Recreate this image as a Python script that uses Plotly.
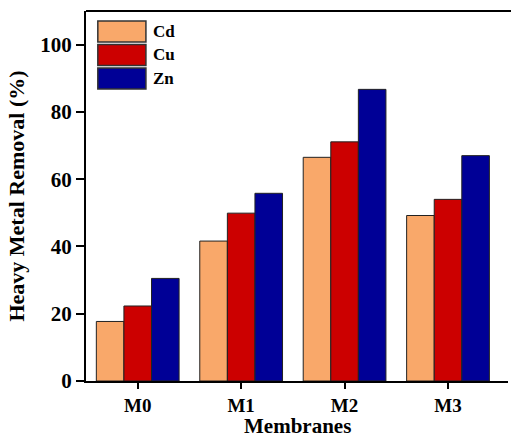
import plotly.graph_objects as go

membranes = ["M0", "M1", "M2", "M3"]
cd = [17.7, 41.6, 66.5, 49.2]
cu = [22.3, 49.9, 71.1, 54.0]
zn = [30.5, 55.8, 86.7, 67.0]

series = [("Cd", cd, "#F9A86A"), ("Cu", cu, "#CC0000"), ("Zn", zn, "#000096")]

font_family = "Liberation Serif"

plot_h = 441 - 11 - 60

fig = go.Figure()
for name, vals, color in series:
    fig.add_trace(go.Bar(
        x=membranes, y=vals, name=name,
        marker=dict(color=color, line=dict(color="#222222", width=1)),
    ))

# custom legend (large boxes as in the reference)
shapes = [dict(type="line", xref="paper", yref="paper", x0=0, x1=1.01, y0=1, y1=1,
               line=dict(color="black", width=2))]
annotations = []
box_x0, box_x1 = 0.028, 0.142
top, box_h, step = 1 - 10 / plot_h, 21 / plot_h, 23.5 / plot_h
for i, (name, vals, color) in enumerate(series):
    y1 = top - i * step
    y0 = y1 - box_h
    shapes.append(dict(type="rect", xref="paper", yref="paper", x0=box_x0, x1=box_x1,
                       y0=y0, y1=y1, fillcolor=color,
                       line=dict(color="#333333", width=1.5)))
    annotations.append(dict(xref="paper", yref="paper", x=0.155, y=(y0 + y1) / 2,
                            xanchor="left", yanchor="middle", showarrow=False,
                            text=name,
                            font=dict(size=17, family=font_family, color="black", weight="bold")))

# x-axis title as annotation at the bottom edge
annotations.append(dict(xref="paper", yref="paper", x=0.5, y=-59 / plot_h,
                        xanchor="center", yanchor="bottom", showarrow=False,
                        text="Membranes",
                        font=dict(size=21, family=font_family, color="black", weight="bold")))

fig.update_layout(
    width=511, height=441,
    margin=dict(l=86, r=3, t=11, b=60),
    paper_bgcolor="white", plot_bgcolor="white",
    barmode="group", bargap=0.2, bargroupgap=0,
    font=dict(family=font_family, color="black"),
    showlegend=False,
    xaxis=dict(
        range=[-0.5, 3.58], showgrid=False, zeroline=False,
        showline=True, linecolor="black", linewidth=2,
        ticks="outside", ticklen=6, tickwidth=2, tickcolor="black",
        tickfont=dict(size=19, family=font_family, weight="bold"),
    ),
    yaxis=dict(
        range=[0, 110], showgrid=False, zeroline=False,
        tickvals=[0, 20, 40, 60, 80, 100],
        showline=True, linecolor="black", linewidth=2,
        ticks="outside", ticklen=8, tickwidth=2, tickcolor="black",
        tickfont=dict(size=21, family=font_family, weight="bold"),
        title=dict(text="Heavy Metal Removal (%)", font=dict(size=22, family=font_family, weight="bold"), standoff=10),
    ),
    shapes=shapes,
    annotations=annotations,
)

fig.write_html("out.html")
